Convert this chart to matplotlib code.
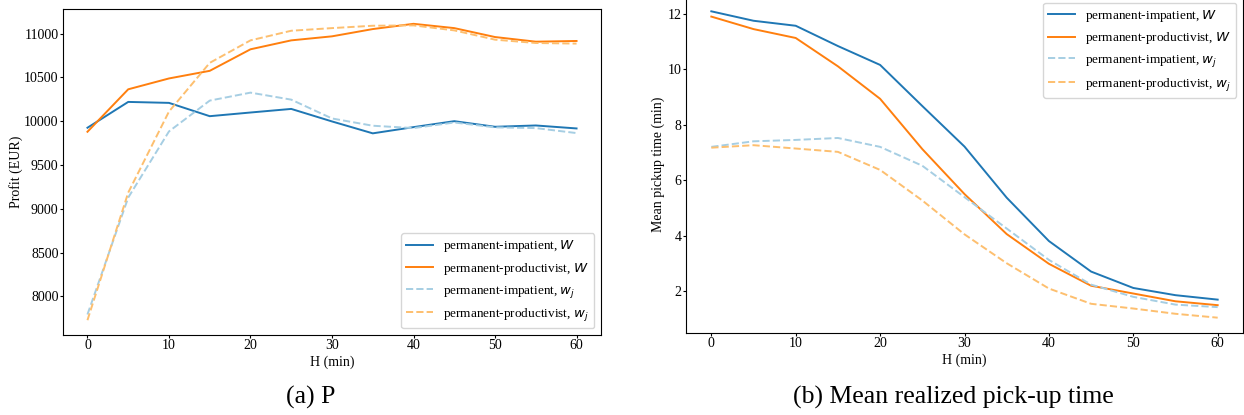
import matplotlib
matplotlib.use('Agg')
from matplotlib import pyplot as plt

# horizon H (min)
h_values = [0, 5, 10, 15, 20, 25, 30, 35, 40, 45, 50, 55, 60]

# (a) profit (EUR)
profit_imp_W = [9926, 10221, 10210, 10058, 10100, 10141, 9998, 9862, 9933, 10001, 9937, 9952, 9918]
profit_prod_W = [9880, 10365, 10489, 10576, 10822, 10924, 10970, 11053, 11113, 11064, 10962, 10909, 10917]
profit_imp_wj = [7793, 9128, 9884, 10236, 10327, 10247, 10032, 9949, 9922, 9986, 9930, 9922, 9865]
profit_prod_wj = [7728, 9185, 10111, 10667, 10924, 11034, 11064, 11091, 11095, 11038, 10932, 10894, 10887]

# (b) mean realized pick-up time (min)
pickup_imp_W = [12.08, 11.74, 11.56, 10.83, 10.15, 8.67, 7.21, 5.37, 3.81, 2.71, 2.12, 1.86, 1.70]
pickup_prod_W = [11.89, 11.44, 11.12, 10.10, 8.93, 7.12, 5.50, 4.06, 2.99, 2.20, 1.92, 1.64, 1.50]
pickup_imp_wj = [7.20, 7.40, 7.45, 7.52, 7.20, 6.52, 5.39, 4.26, 3.13, 2.24, 1.80, 1.52, 1.43]
pickup_prod_wj = [7.17, 7.26, 7.14, 7.02, 6.37, 5.27, 4.05, 3.01, 2.10, 1.55, 1.38, 1.19, 1.05]

labels = ['permanent-impatient, $W$', 'permanent-productivist, $W$',
          'permanent-impatient, $w_j$', 'permanent-productivist, $w_j$']

plt.rcParams.update({
    'font.family': ['Liberation Serif', 'DejaVu Serif'],
    'font.size': 10,
    'axes.labelsize': 10,
    'xtick.labelsize': 10,
    'ytick.labelsize': 10,
    'xtick.major.size': 2,
    'ytick.major.size': 2,
    'xtick.major.pad': 1.2,
    'ytick.major.pad': 1.2,
    'lines.linewidth': 1.4,
})

W, H = 1244, 415
fig = plt.figure(figsize=(W / 100, H / 100), dpi=100)
fig.patch.set_facecolor('white')


def px_axes(x0, y0, x1, y1):
    # pixel box -> figure fraction
    return fig.add_axes([x0 / W, 1 - y1 / H, (x1 - x0) / W, (y1 - y0) / H])


def draw(ax, series):
    ax.plot(h_values, series[0], color='#1f77b4', label=labels[0])
    ax.plot(h_values, series[1], color='#ff7f0e', label=labels[1])
    ax.plot(h_values, series[2], color='#a6cee3', linestyle='--', label=labels[2])
    ax.plot(h_values, series[3], color='#fdbf6f', linestyle='--', label=labels[3])
    ax.set_xticks([0, 10, 20, 30, 40, 50, 60])
    ax.set_xlabel('H (min)', labelpad=2)


ax1 = px_axes(63, 9, 601, 335)
draw(ax1, [profit_imp_W, profit_prod_W, profit_imp_wj, profit_prod_wj])
ax1.set_ylabel('Profit (EUR)', labelpad=1)
ax1.legend(loc='lower right', fontsize=9.5)

ax2 = px_axes(686, -4, 1243, 333)
draw(ax2, [pickup_imp_W, pickup_prod_W, pickup_imp_wj, pickup_prod_wj])
ax2.set_ylabel('Mean pickup time (min)', labelpad=2)
ax2.legend(loc='upper right', fontsize=9.5)

# subfigure captions
fig.text(311 / W, 1 - 397 / H, '(a) P', ha='center', va='center', fontsize=18.5)
fig.text(953 / W, 1 - 397 / H, '(b) Mean realized pick-up time', ha='center', va='center', fontsize=18.5)

fig.savefig('out.png', dpi=100)
